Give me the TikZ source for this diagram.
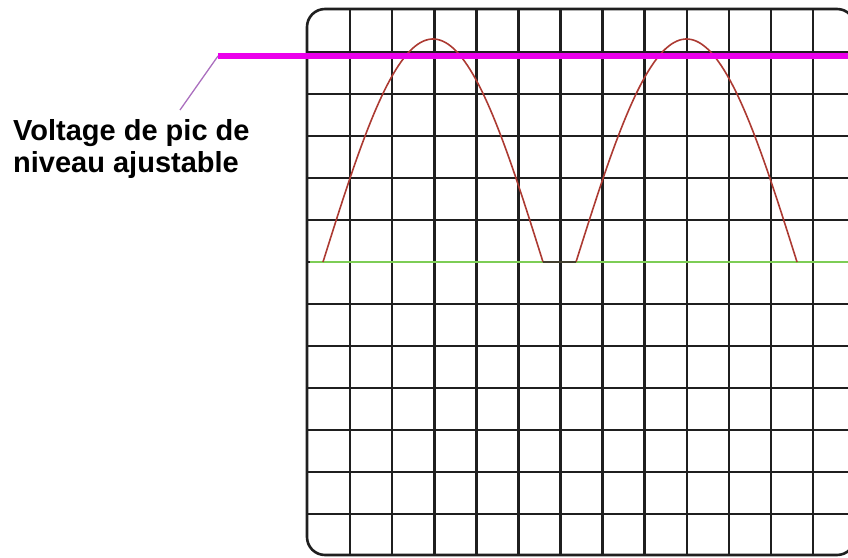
\documentclass[tikz,border=0pt]{standalone}
\usepackage{fontspec}
\setsansfont{Liberation Sans}
\begin{document}
\begin{tikzpicture}[x=1pt,y=1pt,
  gridline/.style={line width=2.6pt,draw=black!88},
  wave/.style={line width=1.6pt,draw=wavecol},
  lbl/.style={font=\sffamily\bfseries\fontsize{29}{32}\selectfont,inner sep=0pt,anchor=base west}]
\definecolor{wavecol}{RGB}{172,58,50}
\definecolor{levelcol}{RGB}{235,0,235}
\definecolor{basecol}{RGB}{125,205,85}
\definecolor{leadcol}{RGB}{170,110,190}
\useasboundingbox (0,0) rectangle (848,557);
\clip (0,0) rectangle (848,557);
% screen grid
\foreach \i in {0,...,11} {
  \draw[gridline] ({350+42.1*\i},2) -- ({350+42.1*\i},548);
  \draw[gridline] (307,{505-42*\i}) -- (855,{505-42*\i});
}
\draw[gridline,rounded corners=18pt] (307,2) rectangle (855,548);
% zero (baseline) level
\draw[line width=2.8pt,draw=basecol] (310,295) -- (848,295);
% rectified waveform
\draw[wave,domain=0:180,samples=80,variable=\t] plot ({323+1.2222*\t},{295+223*sin(\t)});
\draw[wave,domain=0:180,samples=80,variable=\t] plot ({576+1.2278*\t},{295+223*sin(\t)});
\draw[line width=2.4pt,draw=black!70!olive] (543,295) -- (576,295);
% adjustable peak level
\coordinate (leadA) at (180,447);
\coordinate (leadB) at (218,501);
\coordinate (levelEnd) at (848,501);
\draw[line width=1.3pt,draw=leadcol] (leadA) -- (leadB);
\draw[line width=5.5pt,draw=levelcol] (leadB) -- (levelEnd);
% label
\node[lbl] (l1) at (13,416) {Voltage de pic de};
\node[lbl] (l2) at (13,384) {niveau ajustable};
\end{tikzpicture}
\end{document}
